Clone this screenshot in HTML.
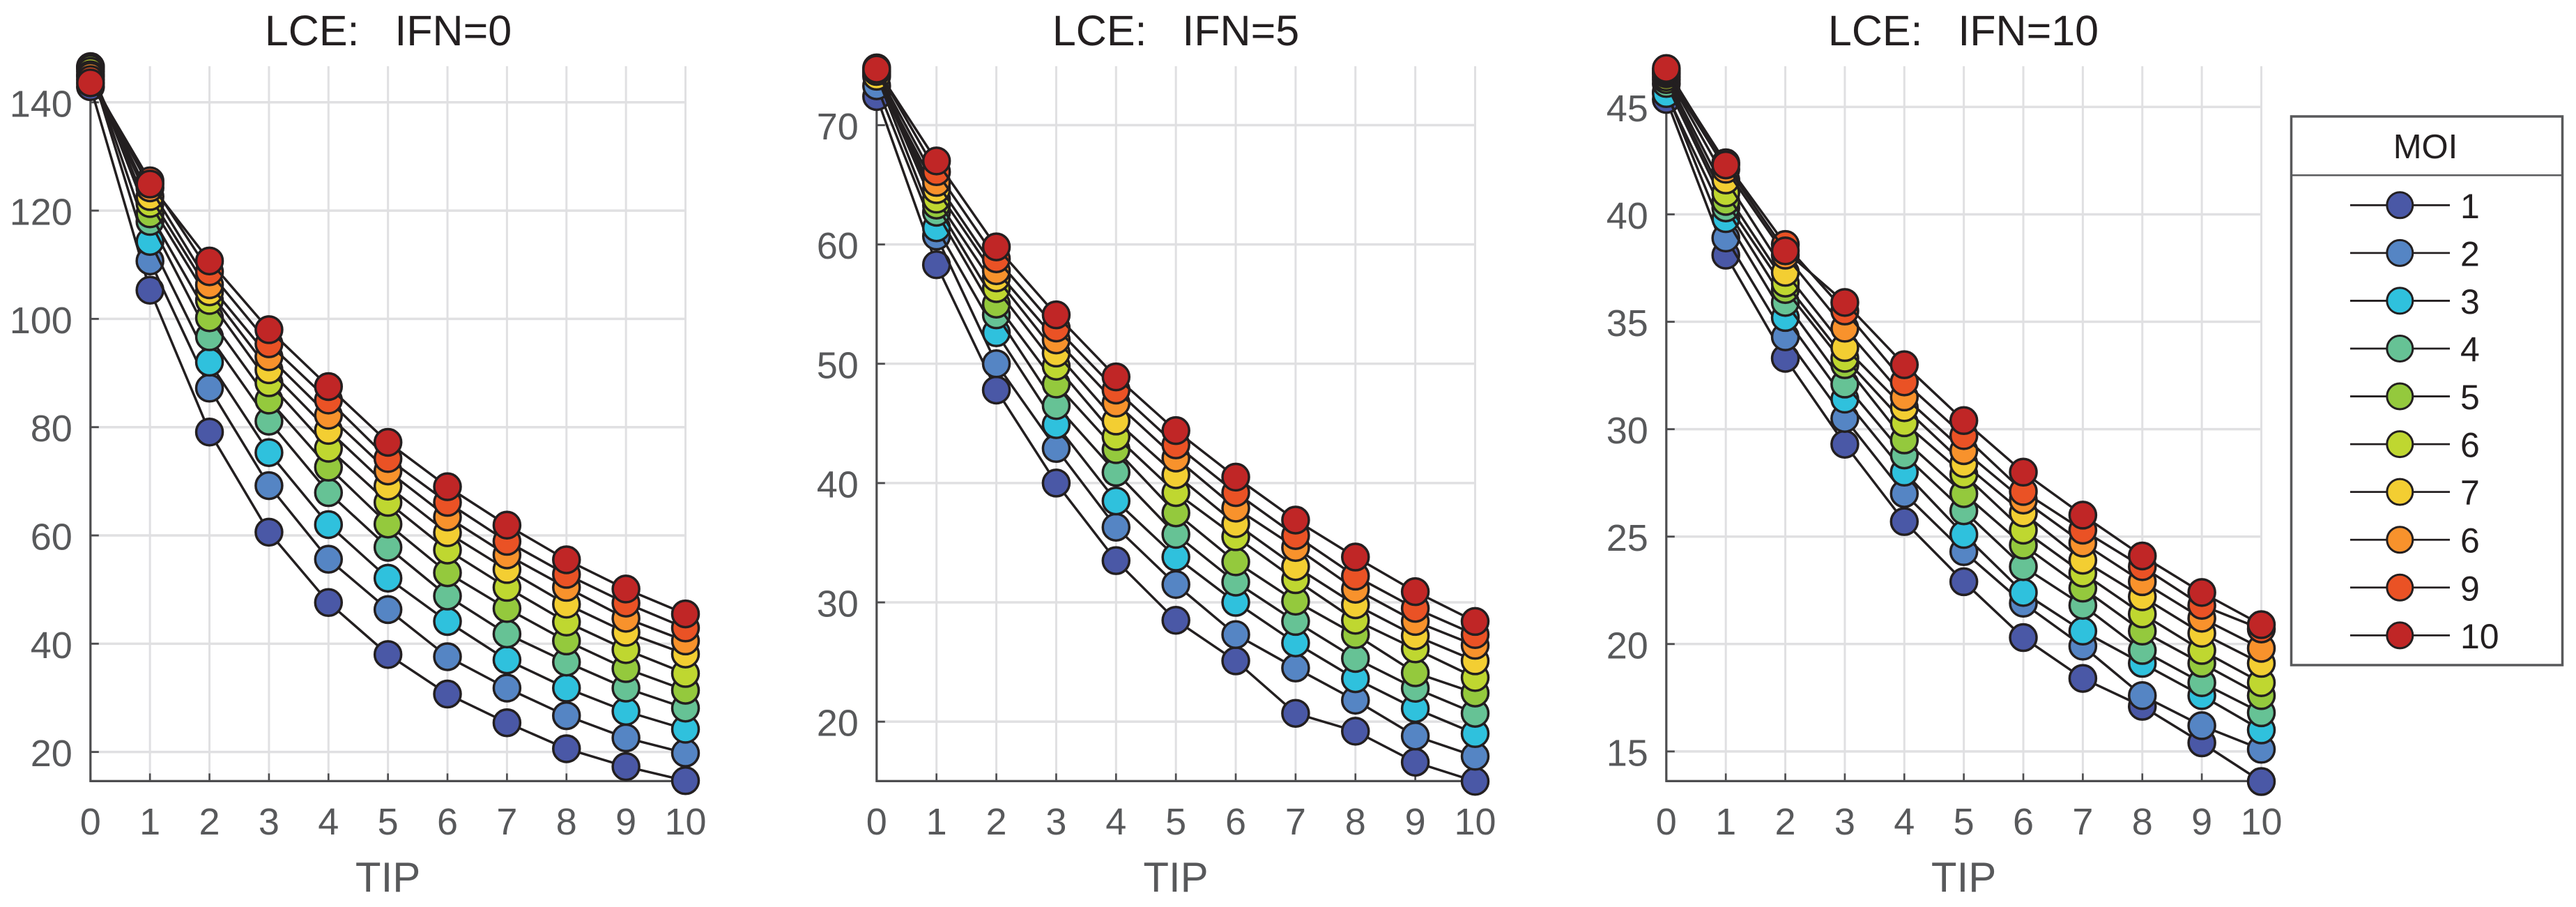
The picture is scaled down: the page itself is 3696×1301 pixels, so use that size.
<!DOCTYPE html>
<html lang="en">
<head>
<meta charset="utf-8">
<title>LCE vs TIP by MOI</title>
<style>
html,body{margin:0;padding:0;background:#fff;}
svg{display:block;font-family:"Liberation Sans",Arial,sans-serif;}
</style>
</head>
<body>
<svg id="chart" xmlns="http://www.w3.org/2000/svg" width="3696" height="1301" viewBox="0 0 3696 1301">
  <rect x="0" y="0" width="3696" height="1301" fill="#ffffff"/>
  <g id="panels"></g>
  <text x="557" y="65" font-size="61" fill="#231f20" text-anchor="middle" xml:space="preserve">LCE:   IFN=0</text>
  <text x="1687" y="65" font-size="61" fill="#231f20" text-anchor="middle" xml:space="preserve">LCE:   IFN=5</text>
  <text x="2817" y="65" font-size="61" fill="#231f20" text-anchor="middle" xml:space="preserve">LCE:   IFN=10</text>
  <text x="556.6" y="1279" font-size="60" fill="#58595b" text-anchor="middle">TIP</text>
  <text x="1687" y="1279" font-size="60" fill="#58595b" text-anchor="middle">TIP</text>
  <text x="2817.6" y="1279" font-size="60" fill="#58595b" text-anchor="middle">TIP</text>
  <g id="legend">
    <rect x="3287.5" y="167" width="389" height="787" fill="#ffffff" stroke="#58595b" stroke-width="3.5"/>
    <line x1="3287.5" y1="251.4" x2="3676.5" y2="251.4" stroke="#58595b" stroke-width="2.5"/>
    <text x="3480" y="227" font-size="49" fill="#231f20" text-anchor="middle">MOI</text>
  </g>
</svg>
<script>
// Shared categories
const tipCategories = [0, 1, 2, 3, 4, 5, 6, 7, 8, 9, 10];
const moiLegendLabels = ['1', '2', '3', '4', '5', '6', '7', '6', '9', '10'];
const moiColors = ['#4a58a6', '#5585c4', '#2fc1dd', '#66c295', '#94c93d', '#bfd730', '#f3ce32', '#f8922c', '#ea5225', '#c02626'];

// IFN = 0
const ifn0YTicks = [20, 40, 60, 80, 100, 120, 140];
const ifn0YDomain = [14.62, 146.67];
const ifn0Moi1 = [142.9, 105.3, 79.1, 60.6, 47.6, 38, 30.7, 25.4, 20.6, 17.3, 14.7];
const ifn0Moi2 = [146.5, 110.7, 87.2, 69.2, 55.6, 46.3, 37.6, 31.8, 26.7, 22.6, 19.8];
const ifn0Moi3 = [146.6, 114.3, 92, 75.3, 62, 52.1, 44.1, 37, 31.8, 27.5, 24.2];
const ifn0Moi4 = [146.5, 118, 96.7, 81.1, 67.9, 57.8, 48.8, 41.8, 36.6, 31.8, 28.1];
const ifn0Moi5 = [146.2, 119.4, 100.2, 85, 72.6, 62.1, 53.1, 46.5, 40.5, 35.4, 31.4];
const ifn0Moi6 = [145.7, 121.3, 103.4, 88.2, 76.1, 66.1, 57.3, 50.4, 44, 38.9, 34.5];
const ifn0Moi7 = [145.1, 122.6, 105, 90.6, 79.4, 69.1, 60.5, 53.7, 47.3, 42.1, 38.1];
const ifn0Moi8 = [144.8, 124.2, 106.3, 93, 82.2, 71.9, 63.4, 56.4, 50.4, 44.7, 40.5];
const ifn0Moi9 = [144.2, 125.5, 108.7, 95.4, 85, 74.2, 66.1, 58.9, 52.8, 47.5, 42.9];
const ifn0Moi10 = [143.6, 124.9, 110.7, 98, 87.5, 77.2, 69, 61.9, 55.5, 50.1, 45.5];

// IFN = 5
const ifn5YTicks = [20, 30, 40, 50, 60, 70];
const ifn5YDomain = [15.02, 74.94];
const ifn5Moi1 = [72.4, 58.3, 47.8, 40, 33.5, 28.5, 25.1, 20.7, 19.2, 16.6, 15];
const ifn5Moi2 = [73.3, 60.7, 50, 42.9, 36.3, 31.5, 27.3, 24.5, 21.8, 18.8, 17.1];
const ifn5Moi3 = [74.2, 61.4, 52.6, 44.9, 38.5, 33.8, 30, 26.6, 23.6, 21.1, 19];
const ifn5Moi4 = [74.4, 62.7, 54.1, 46.5, 40.9, 35.7, 31.7, 28.4, 25.3, 22.8, 20.7];
const ifn5Moi5 = [74.5, 63.3, 55, 48.3, 42.8, 37.5, 33.4, 30.1, 27.3, 24.1, 22.4];
const ifn5Moi6 = [74.6, 63.8, 56.3, 49.8, 43.9, 39.2, 35.5, 31.9, 28.5, 26.1, 23.7];
const ifn5Moi7 = [74.1, 64.6, 57.2, 50.9, 45.2, 40.7, 36.6, 33, 29.8, 27.2, 25.1];
const ifn5Moi8 = [74.5, 65.2, 57.8, 52, 46.7, 42.1, 37.9, 34.6, 31.1, 28.4, 26.4];
const ifn5Moi9 = [74.8, 66.1, 58.8, 53, 47.8, 43.2, 39.2, 35.6, 32.2, 29.5, 27.3];
const ifn5Moi10 = [74.7, 67, 59.8, 54.1, 48.9, 44.4, 40.5, 36.9, 33.8, 30.9, 28.4];

// IFN = 10
const ifn10YTicks = [15, 20, 25, 30, 35, 40, 45];
const ifn10YDomain = [13.62, 46.895];
const ifn10Moi1 = [45.35, 38.1, 33.3, 29.3, 25.7, 22.9, 20.3, 18.4, 17.1, 15.4, 13.6];
const ifn10Moi2 = [45.7, 38.9, 34.3, 30.5, 27, 24.3, 21.9, 19.9, 17.6, 16.2, 15.1];
const ifn10Moi3 = [45.62, 39.8, 35.2, 31.4, 28, 25.1, 22.4, 20.6, 19.1, 17.6, 16];
const ifn10Moi4 = [46.09, 40.3, 35.9, 32.1, 28.8, 26.2, 23.6, 21.8, 19.7, 18.2, 16.8];
const ifn10Moi5 = [46.27, 40.6, 36.5, 33, 29.5, 27, 24.6, 22.6, 20.6, 19.1, 17.6];
const ifn10Moi6 = [46.4, 41, 36.8, 33.3, 30.3, 27.9, 25.3, 23.3, 21.4, 19.7, 18.2];
const ifn10Moi7 = [46.54, 41.6, 37.3, 33.8, 31, 28.4, 26.1, 23.9, 22.2, 20.5, 19.1];
const ifn10Moi8 = [46.6, 42.1, 38.1, 34.7, 31.5, 29, 26.7, 24.7, 22.9, 21.2, 19.8];
const ifn10Moi9 = [46.7, 42.4, 38.6, 35.5, 32.2, 29.7, 27.1, 25.3, 23.6, 21.8, 20.7];
const ifn10Moi10 = [46.79, 42.3, 38.3, 35.9, 33, 30.4, 28, 26, 24.1, 22.4, 20.9];

const ifn0Series = [ifn0Moi1, ifn0Moi2, ifn0Moi3, ifn0Moi4, ifn0Moi5, ifn0Moi6, ifn0Moi7, ifn0Moi8, ifn0Moi9, ifn0Moi10];
const ifn5Series = [ifn5Moi1, ifn5Moi2, ifn5Moi3, ifn5Moi4, ifn5Moi5, ifn5Moi6, ifn5Moi7, ifn5Moi8, ifn5Moi9, ifn5Moi10];
const ifn10Series = [ifn10Moi1, ifn10Moi2, ifn10Moi3, ifn10Moi4, ifn10Moi5, ifn10Moi6, ifn10Moi7, ifn10Moi8, ifn10Moi9, ifn10Moi10];

const NS = 'http://www.w3.org/2000/svg';
const PLOT_TOP = 95;
const PLOT_BOTTOM = 1120.4;
const INK = '#231f20';
const AXIS = '#4d4d4f';
const LABEL = '#58595b';
const GRID = '#e0e0e2';

function make(parent, tag, props, text) {
  const node = document.createElementNS(NS, tag);
  for (const key in props) node.setAttribute(key, props[key]);
  if (text !== undefined) node.textContent = text;
  parent.appendChild(node);
  return node;
}

function drawPanel(series, yTicks, yDomain, plotLeft, plotRight) {
  const root = document.getElementById('panels');
  const xScale = function (v) {
    return plotLeft + (v - tipCategories[0]) / (tipCategories[tipCategories.length - 1] - tipCategories[0]) * (plotRight - plotLeft);
  };
  const yScale = function (v) {
    return PLOT_BOTTOM - (v - yDomain[0]) / (yDomain[1] - yDomain[0]) * (PLOT_BOTTOM - PLOT_TOP);
  };

  const panel = make(root, 'g', {});
  
  

  tipCategories.forEach(function (t) {
    if (t === tipCategories[0]) return;
    const grid = make(panel, 'line', { x1: xScale(t), x2: xScale(t), y1: PLOT_TOP, y2: PLOT_BOTTOM, stroke: GRID, 'stroke-width': 3 });
    
    
  });
  yTicks.forEach(function (v) {
    const grid = make(panel, 'line', { x1: plotLeft, x2: plotRight, y1: yScale(v), y2: yScale(v), stroke: GRID, 'stroke-width': 3.5 });
    
    
  });

  const yAxis = make(panel, 'line', { x1: plotLeft, x2: plotLeft, y1: PLOT_TOP, y2: PLOT_BOTTOM + 1.5, stroke: AXIS, 'stroke-width': 3.2 });
  
  
  const xAxis = make(panel, 'line', { x1: plotLeft, x2: plotRight, y1: PLOT_BOTTOM, y2: PLOT_BOTTOM, stroke: AXIS, 'stroke-width': 3.2 });
  
  

  tipCategories.forEach(function (t) {
    const tick = make(panel, 'line', { x1: xScale(t), x2: xScale(t), y1: PLOT_BOTTOM - 11, y2: PLOT_BOTTOM, stroke: AXIS, 'stroke-width': 2.6 });
    
    
    const label = make(panel, 'text', { x: xScale(t), y: 1197, 'font-size': 54, fill: LABEL, 'text-anchor': 'middle' }, String(t));
    
    
  });
  yTicks.forEach(function (v) {
    const tick = make(panel, 'line', { x1: plotLeft, x2: plotLeft + 12, y1: yScale(v), y2: yScale(v), stroke: AXIS, 'stroke-width': 2.8 });
    
    
    const label = make(panel, 'text', { x: plotLeft - 26, y: yScale(v) + 20.5, 'font-size': 54, fill: LABEL, 'text-anchor': 'end' }, String(v));
    
    
  });

  series.forEach(function (values, s) {
    const group = make(panel, 'g', {});
    
    
    const pts = values.map(function (v, i) { return xScale(tipCategories[i]) + ',' + yScale(v); }).join(' ');
    const line = make(group, 'polyline', { points: pts, fill: 'none', stroke: INK, 'stroke-width': 3.5, 'stroke-linejoin': 'round' });
    
    
    values.forEach(function (v, i) {
      const dot = make(group, 'circle', { cx: xScale(tipCategories[i]), cy: yScale(v), r: 19, fill: moiColors[s], stroke: INK, 'stroke-width': 3.5 });
      
      
    });
  });
}

function drawLegend() {
  const legend = document.getElementById('legend');
  const rowTop = 294.3;
  const rowStep = 68.56;
  moiLegendLabels.forEach(function (name, i) {
    const y = rowTop + i * rowStep;
    const entry = make(legend, 'g', {});
    
    
    const line = make(entry, 'line', { x1: 3372, x2: 3515, y1: y, y2: y, stroke: INK, 'stroke-width': 2.8 });
    
    
    const dot = make(entry, 'circle', { cx: 3443.3, cy: y, r: 18.5, fill: moiColors[i], stroke: INK, 'stroke-width': 3 });
    
    
    const label = make(entry, 'text', { x: 3530, y: y + 18.5, 'font-size': 50, fill: INK }, name);
    
    
  });
}

drawPanel(ifn0Series, ifn0YTicks, ifn0YDomain, 129.8, 983.5);
drawPanel(ifn5Series, ifn5YTicks, ifn5YDomain, 1257.8, 2116.5);
drawPanel(ifn10Series, ifn10YTicks, ifn10YDomain, 2390.8, 3244.5);
drawLegend();
</script>
</body>
</html>
